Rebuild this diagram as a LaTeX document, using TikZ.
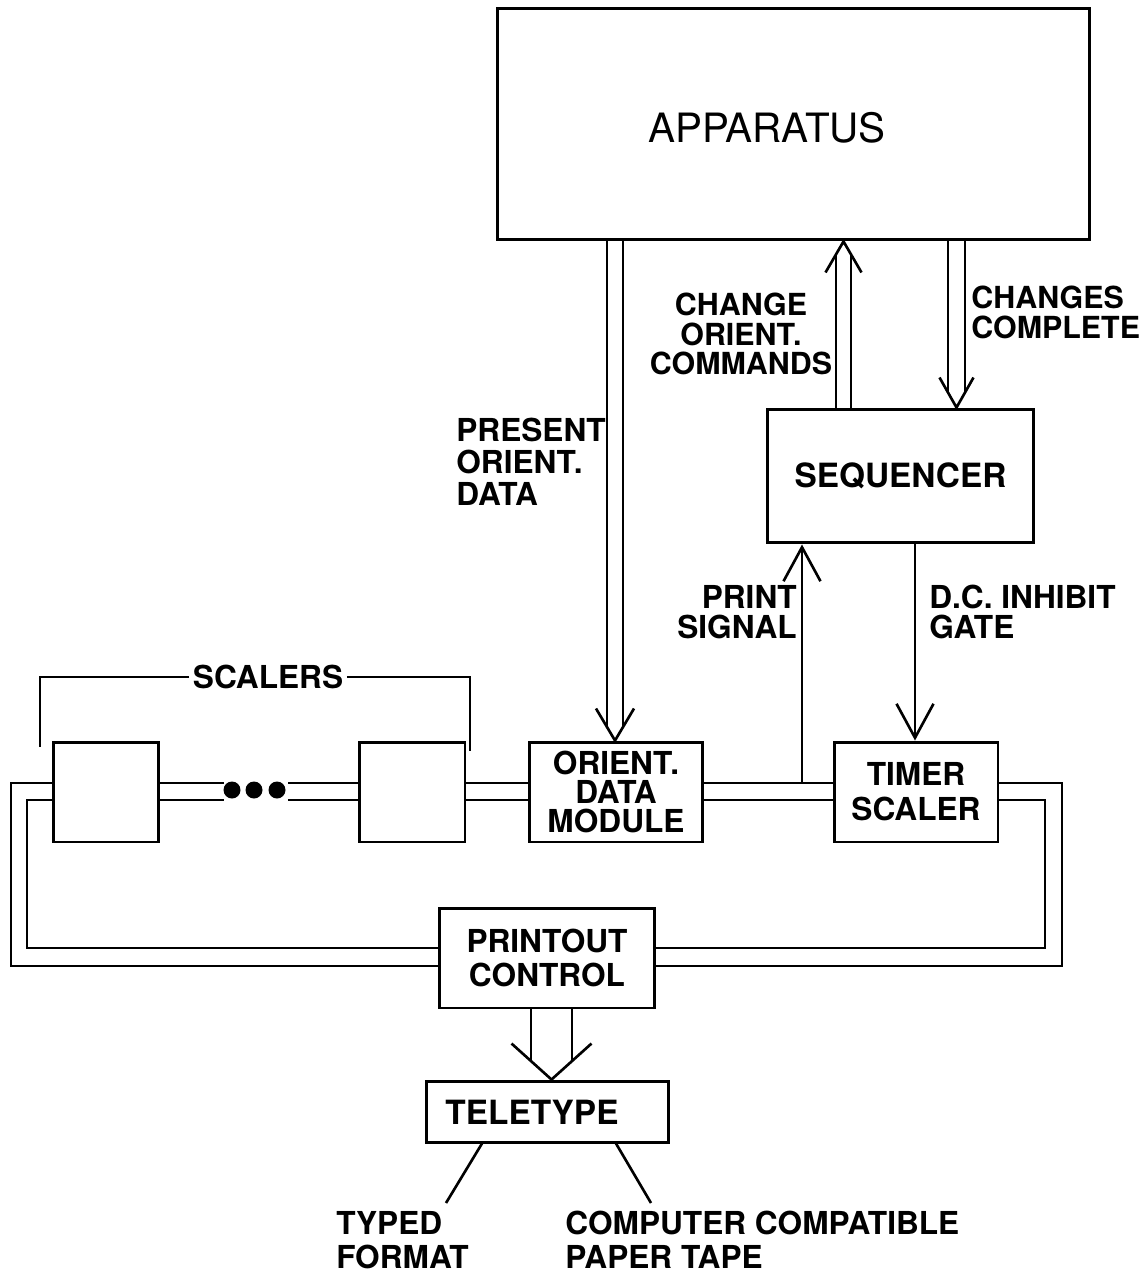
\documentclass[tikz,border=0pt]{standalone}
\usepackage{fontspec}
\setmainfont{TeX Gyre Heros}
\usetikzlibrary{arrows.meta,calc}

\newcommand*{\xmax}{1147}
\newcommand*{\ymax}{1274}

\begin{document}
\begin{tikzpicture}
[
	x=0.02cm, y=-0.02cm,
	box/.style={draw,line width=1.7pt,rectangle,inner sep=0pt},
	lbl/.style={font=\bfseries\fontsize{18}{#1}\selectfont,inner sep=0pt},
	lbl/.default=18,
	wire/.style={line width=1.5pt},
	barb/.style={wire,-{Straight Barb[length=0.68cm,width=0.74cm]}}
]

	\useasboundingbox (0,0) rectangle (\xmax,\ymax);

	% boxes
	\node[box,minimum width=11.86cm,minimum height=4.64cm] at (793.5,124) (app) {};
	\node[font=\fontsize{23}{24}\selectfont] at (767,128) (applbl) {APPARATUS};
	\node[box,minimum width=5.34cm,minimum height=2.68cm,
		font=\bfseries\fontsize{19}{20}\selectfont] at (900.5,476) (seq) {SEQUENCER};
	\node[box,minimum width=2.12cm,minimum height=2cm] at (106,792) (sc1) {};
	\node[box,minimum width=2.12cm,minimum height=2cm] at (412,792) (sc2) {};
	\node[box,minimum width=3.48cm,minimum height=2cm,lbl=16.6,align=center] at (616,792) (odm) {ORIENT.\\DATA\\MODULE};
	\node[box,minimum width=3.28cm,minimum height=2cm,lbl=19.8,align=center] at (916,792) (tsc) {TIMER\\SCALER};
	\node[box,minimum width=4.32cm,minimum height=2cm,lbl=19.3,align=center] at (547,958) (poc) {PRINTOUT\\CONTROL};
	\node[box,minimum width=4.86cm,minimum height=1.22cm] at (547.5,1111.5) (tty) {};
	\node[lbl,font=\bfseries\fontsize{19}{20}\selectfont] at (532,1112) (ttylbl) {TELETYPE};

	% labels
	\node[lbl=18.1,anchor=west,align=left] at (456,462) (pod) {PRESENT\\ORIENT.\\DATA};
	\node[lbl=17,font=\bfseries\fontsize{17.3}{16.8}\selectfont,align=center] at (741,334) (cmd) {CHANGE\\ORIENT.\\COMMANDS};
	\node[lbl=17,font=\bfseries\fontsize{17.3}{17}\selectfont,anchor=west,align=left] at (971,312) (cpl) {CHANGES\\COMPLETE};
	\node[lbl=17,anchor=east,align=right] at (797,612) (psg) {PRINT\\SIGNAL};
	\node[lbl=17,anchor=west,align=left] at (929,612) (dcg) {D.C. INHIBIT\\GATE};
	\node[lbl=19.3,anchor=west,align=left] at (336,1240) (tfm) {TYPED\\FORMAT};
	\node[lbl=19.3,anchor=west,align=left] at (565,1240) (ppt) {COMPUTER COMPATIBLE\\PAPER TAPE};

	% scalers bracket
	\node[lbl,inner sep=2pt] at (268,677) (scl) {SCALERS};
	\coordinate (bl) at (40,747);
	\coordinate (br) at (470,751);
	\draw[wire] (scl.west) -| (bl);
	\draw[wire] (scl.east) -| (br);

	% bus
	\coordinate (bt) at (0,783);
	\coordinate (bb) at (0,800);
	\coordinate (dl) at (224,0);
	\coordinate (dr) at (288,0);
	\foreach \b in {bt,bb} {
		\draw[wire] (sc1.east |- \b) -- (dl |- \b);
		\draw[wire] (dr |- \b) -- (sc2.west |- \b);
		\draw[wire] (sc2.east |- \b) -- (odm.west |- \b);
		\draw[wire] (odm.east |- \b) -- (tsc.west |- \b);
	}
	\foreach \x in {232,254,277} {
		\fill (\x,790) circle[radius=0.17cm];
	}

	% loop to printout control
	\coordinate (lo) at (11,966);
	\coordinate (li) at (27,948);
	\coordinate (ro) at (1062,966);
	\coordinate (ri) at (1045,948);
	\draw[wire] (sc1.west |- bt) -| (lo) -- (poc.west |- lo);
	\draw[wire] (sc1.west |- bb) -| (li) -- (poc.west |- li);
	\draw[wire] (tsc.east |- bt) -| (ro) -- (poc.east |- ro);
	\draw[wire] (tsc.east |- bb) -| (ri) -- (poc.east |- ri);

	% present orient. data
	\coordinate (pd) at (615,0);
	\foreach \dx in {-8,8} {
		\draw[wire] ($(pd |- app.south)+(\dx,0)$) -- ($(pd |- odm.north)+(\dx,-13.5)$);
	}
	\draw[wire] ($(pd |- odm.north)+(-19,-32)$) -- (pd |- odm.north) -- ($(pd |- odm.north)+(19,-32)$);

	% change orient. commands
	\coordinate (cc) at (843.5,0);
	\foreach \dx in {-7.5,7.5} {
		\draw[wire] ($(cc |- seq.north)+(\dx,0)$) -- ($(cc |- app.south)+(\dx,13)$);
	}
	\draw[wire] ($(cc |- app.south)+(-18,31)$) -- (cc |- app.south) -- ($(cc |- app.south)+(18,31)$);

	% changes complete
	\coordinate (cp) at (956.5,0);
	\foreach \dx in {-8.5,8.5} {
		\draw[wire] ($(cp |- app.south)+(\dx,0)$) -- ($(cp |- seq.north)+(\dx,-15)$);
	}
	\draw[wire] ($(cp |- seq.north)+(-17,-30)$) -- (cp |- seq.north) -- ($(cp |- seq.north)+(17,-30)$);

	% print signal and inhibit gate
	\coordinate (tap) at (802,783);
	\draw[barb] (tap) -- (tap |- seq.south);
	\coordinate (dc) at (915,0);
	\draw[barb] (dc |- seq.south) -- (dc |- tsc.north);

	% printout to teletype
	\coordinate (tt) at (551.5,0);
	\foreach \dx in {-20.5,20.5} {
		\draw[wire] ($(tt |- poc.south)+(\dx,0)$) -- ($(tt |- tty.north)+(\dx,-18.5)$);
	}
	\draw[wire] ($(tt |- tty.north)+(-40,-36)$) -- (tt |- tty.north) -- ($(tt |- tty.north)+(40,-36)$);

	% outputs
	\coordinate (tfs) at (482,0);
	\coordinate (tfe) at (446,1203);
	\coordinate (pts) at (616,0);
	\coordinate (pte) at (651,1203);
	\draw[wire] (tfs |- tty.south) -- (tfe);
	\draw[wire] (pts |- tty.south) -- (pte);

\end{tikzpicture}
\end{document}
